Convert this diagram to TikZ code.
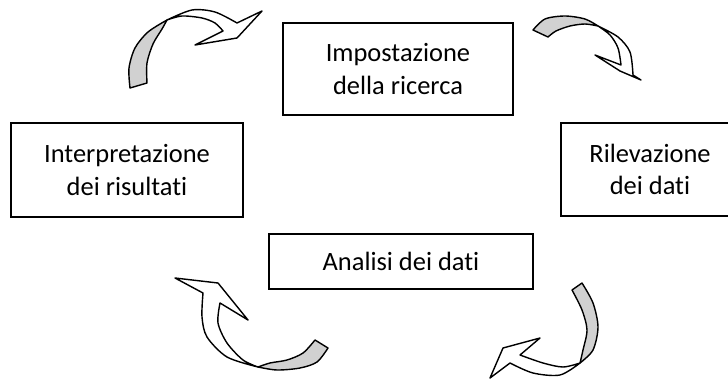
\documentclass[tikz,border=0pt]{standalone}
\usepackage{fontspec}
\setmainfont{Carlito}[Ligatures=NoCommon]
\usepackage{tikz}
\usepackage{xcolor}
\newcommand\nolig{\kern0pt }

\tikzset{
  box/.style={draw,line width=1.3pt,align=center,inner sep=0pt,
    font=\fontsize{18.8}{22.8}\selectfont},
  ribbon/.style={draw,line width=1pt,line join=round,fill=white},
  ribbonback/.style={ribbon,fill=black!18}
}

\begin{document}
\begin{tikzpicture}[x=0.025cm,y=-0.025cm]
\clip (0,0) rectangle (728,380);
\node[box,minimum width=5.75cm,minimum height=2.3cm] (imp) at (398,69) {Impostazione\\della ricerca};
\node[box,minimum width=5.8cm,minimum height=2.35cm] (int) at (127,170) {Interpretazione\\dei risultat\nolig i};
\node[box,minimum width=4.45cm,minimum height=2.325cm] (ril) at (650,169.5) {Rilevazione\\dei dat\nolig i};
\node[box,minimum width=6.6cm,minimum height=1.375cm] (ana) at (401,261.5) {Analisi dei dat\nolig i};

% int -> imp
\path[ribbonback] plot[smooth] coordinates {(130,88) (129,68) (135,48) (148,32) (167,20)}
  -- plot[smooth] coordinates {(167,20) (162,29) (153,44) (147,63) (147,83)} -- cycle;
\path[ribbon] plot[smooth] coordinates {(167,20) (192,10) (215,12) (237,23)}
  -- (262,11) -- (237,38) -- (195,45)
  -- plot[smooth] coordinates {(223,31) (215,23) (202,18) (182,16) (167,20)} -- cycle;

% imp -> ril
\path[ribbonback] plot[smooth] coordinates {(533,30) (545,19) (565,16) (585,19) (598,26)}
  -- plot[smooth] coordinates {(598,26) (585,24) (570,26) (556,31) (548,37)} -- cycle;
\path[ribbon] plot[smooth] coordinates {(598,26) (618,37) (630,52) (633,75)}
  -- (641,80) -- (620,71) -- (595,55)
  -- plot[smooth] coordinates {(621,65) (618,48) (610,35) (598,26)} -- cycle;

% ril -> ana
\path[ribbonback] plot[smooth] coordinates {(582,283) (593,303) (598,327) (593,350) (580,363)}
  -- plot[smooth] coordinates {(580,363) (583,350) (587,330) (582,310) (572,290)} -- cycle;
\path[ribbon] plot[smooth] coordinates {(580,363) (560,375) (533,373) (510,363)}
  -- (490,378) -- (503,348) -- (540,338)
  -- plot[smooth] coordinates {(520,355) (543,363) (563,367) (580,363)} -- cycle;

% ana -> int
\path[ribbonback] plot[smooth] coordinates {(328,348) (317,362) (300,368) (277,370) (258,367)}
  -- plot[smooth] coordinates {(258,367) (270,363) (287,360) (303,353) (315,340)} -- cycle;
\path[ribbon] plot[smooth] coordinates {(258,367) (227,357) (207,337) (202,317) (203,293)}
  -- (175,278) -- (218,283) -- (248,320)
  -- plot[smooth] coordinates {(220,303) (218,323) (227,343) (243,360) (258,367)} -- cycle;
\end{tikzpicture}
\end{document}
